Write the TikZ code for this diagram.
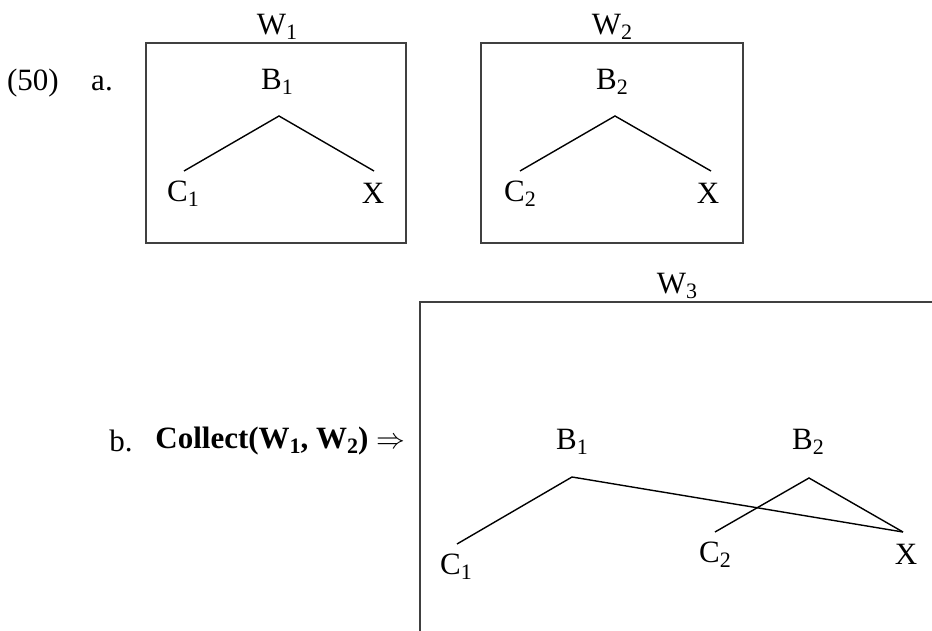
\documentclass[tikz,border=0pt]{standalone}
\usepackage{fontspec}
\setmainfont{Liberation Serif}
\newcommand{\mysub}[1]{\raisebox{-0.35ex}{\fontsize{11pt}{12pt}\selectfont #1}}
\begin{document}
\begin{tikzpicture}[x=0.5pt,y=-0.5pt,
  lbl/.style={inner sep=0pt,font=\fontsize{15.5pt}{18pt}\selectfont},
  world/.style={draw=black!75,line width=0.7pt},
  branch/.style={draw=black,line width=0.7pt}]
\useasboundingbox (0,0) rectangle (932,631);
% (50) a.
\node[lbl] (num) at (33,83) {(50)};
\node[lbl] (la) at (102,83) {a.};
% W1
\node[world,minimum width=130pt,minimum height=100pt,inner sep=0pt] (w1box) at (276,143) {};
\node[lbl] (w1) at (277,27) {W\mysub{1}};
\node[lbl] (b1a) at (277,82) {B\mysub{1}};
\node[lbl] (c1a) at (183,194) {C\mysub{1}};
\node[lbl] (xa) at (373,193) {X};
\coordinate (t1) at (279,116);
\coordinate (t1l) at (184,171);
\coordinate (t1r) at (374,171);
\draw[branch] (t1l) -- (t1) -- (t1r);
% W2
\node[world,minimum width=131pt,minimum height=100pt,inner sep=0pt] (w2box) at (612,143) {};
\node[lbl] (w2) at (612,27) {W\mysub{2}};
\node[lbl] (b2a) at (612,82) {B\mysub{2}};
\node[lbl] (c2a) at (520,194) {C\mysub{2}};
\node[lbl] (xb) at (708,193) {X};
\coordinate (t2) at (615,116);
\coordinate (t2l) at (520,171);
\coordinate (t2r) at (711,171);
\draw[branch] (t2l) -- (t2) -- (t2r);
% b.
\node[lbl] (lb) at (121,441) {b.};
\node[lbl,anchor=west] (coll) at (155,441) {\textbf{Collect(W\mysub{1}, W\mysub{2})} $\Rightarrow$};
% W3
\coordinate (w3bl) at (420,631);
\coordinate (w3tl) at (420,302);
\coordinate (w3tr) at (932,302);
\draw[world] (w3bl) -- (w3tl) -- (w3tr);
\node[lbl] (w3) at (677,286) {W\mysub{3}};
\node[lbl] (b1c) at (572,442) {B\mysub{1}};
\node[lbl] (b2c) at (808,442) {B\mysub{2}};
\node[lbl] (c1c) at (456,567) {C\mysub{1}};
\node[lbl] (c2c) at (715,555) {C\mysub{2}};
\node[lbl] (xc) at (906,554) {X};
\coordinate (t3) at (572,477);
\coordinate (t3l) at (457,544);
\coordinate (t4) at (809,478);
\coordinate (t4l) at (715,532);
\coordinate (xtop) at (903,532);
\draw[branch] (t3l) -- (t3) -- (xtop);
\draw[branch] (t4l) -- (t4) -- (xtop);
\end{tikzpicture}
\end{document}
